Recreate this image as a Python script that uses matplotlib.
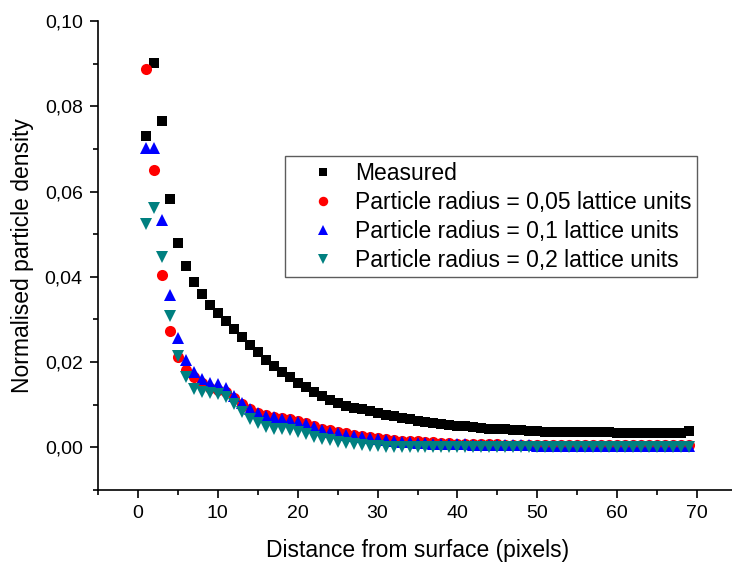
import numpy as np
import matplotlib
matplotlib.use("Agg")
import matplotlib.pyplot as plt
from matplotlib.ticker import MultipleLocator, FuncFormatter

plt.rcParams['font.family'] = ['Liberation Sans', 'DejaVu Sans']

# distance from surface (pixels)
distance = list(range(1, 70))

measured = [0.0730, 0.0902, 0.0765, 0.0583, 0.0479, 0.0425, 0.0387, 0.0359, 0.0335, 0.0315,
            0.0296, 0.0277, 0.0258, 0.0240, 0.0223, 0.0206, 0.0190, 0.0177, 0.0164, 0.0152,
            0.0141, 0.0130, 0.0120, 0.0112, 0.0104, 0.0098, 0.0093, 0.0089, 0.0085, 0.0081,
            0.0077, 0.0073, 0.0069, 0.0066, 0.0063, 0.0060, 0.0057, 0.0055, 0.0053, 0.0051,
            0.0049, 0.0047, 0.0046, 0.0044, 0.0043, 0.0042, 0.0041, 0.0040, 0.0039, 0.0038,
            0.0037, 0.0037, 0.0036, 0.0036, 0.0035, 0.0035, 0.0035, 0.0035, 0.0035, 0.0034,
            0.0034, 0.0034, 0.0034, 0.0034, 0.0034, 0.0034, 0.0034, 0.0034, 0.0038]

radius_005 = [0.0887, 0.0651, 0.0405, 0.0273, 0.0211, 0.0182, 0.0165, 0.0150, 0.0140, 0.0135,
              0.0130, 0.0116, 0.0102, 0.0090, 0.0081, 0.0076, 0.0072, 0.0069, 0.0066, 0.0062,
              0.0056, 0.0050, 0.0044, 0.0040, 0.0036, 0.0033, 0.0030, 0.0027, 0.0024, 0.0022,
              0.0020, 0.0018, 0.0016, 0.0015, 0.0014, 0.0013, 0.0012, 0.0011, 0.0010, 0.0009,
              0.0009, 0.0008, 0.0008, 0.0007, 0.0007, 0.0006, 0.0006, 0.0006, 0.0006, 0.0005,
              0.0005, 0.0005, 0.0005, 0.0005, 0.0005, 0.0005, 0.0005, 0.0005, 0.0005, 0.0005,
              0.0005, 0.0005, 0.0005, 0.0005, 0.0005, 0.0005, 0.0005, 0.0005, 0.0005]

radius_01 = [0.0703, 0.0702, 0.0534, 0.0358, 0.0257, 0.0204, 0.0176, 0.0161, 0.0151, 0.0148,
             0.0140, 0.0121, 0.0104, 0.0090, 0.0080, 0.0074, 0.0071, 0.0067, 0.0065, 0.0060,
             0.0054, 0.0048, 0.0041, 0.0037, 0.0033, 0.0030, 0.0027, 0.0024, 0.0021, 0.0019,
             0.0017, 0.0015, 0.0013, 0.0012, 0.0011, 0.0010, 0.0009, 0.0008, 0.0008, 0.0007,
             0.0007, 0.0006, 0.0006, 0.0006, 0.0005, 0.0005, 0.0005, 0.0005, 0.0005, 0.0004,
             0.0004, 0.0004, 0.0004, 0.0004, 0.0004, 0.0004, 0.0004, 0.0004, 0.0004, 0.0004,
             0.0004, 0.0004, 0.0004, 0.0004, 0.0004, 0.0004, 0.0004, 0.0004, 0.0004]

radius_02 = [0.0525, 0.0561, 0.0447, 0.0308, 0.0215, 0.0165, 0.0137, 0.0130, 0.0127, 0.0126,
             0.0118, 0.0102, 0.0083, 0.0067, 0.0056, 0.0048, 0.0044, 0.0042, 0.0040, 0.0036,
             0.0031, 0.0024, 0.0020, 0.0017, 0.0013, 0.0010, 0.0008, 0.0006, 0.0004, 0.0003,
             0.0002, 0.0001, 0.0001, 0.0000, 0.0000, 0.0000, 0.0000, 0.0000, 0.0000, 0.0000,
             0.0000, 0.0000, 0.0000, 0.0000, 0.0000, 0.0000, 0.0000, 0.0000, 0.0000, 0.0000,
             0.0000, 0.0000, 0.0000, 0.0000, 0.0000, 0.0000, 0.0000, 0.0000, 0.0000, 0.0000,
             0.0000, 0.0000, 0.0000, 0.0000, 0.0000, 0.0000, 0.0000, 0.0000, 0.0000]

labels = ["Measured",
          "Particle radius = 0,05 lattice units",
          "Particle radius = 0,1 lattice units",
          "Particle radius = 0,2 lattice units"]

fig = plt.figure(figsize=(7.32, 5.67), dpi=100)
ax = fig.add_axes([98 / 732, 77 / 567, 639 / 732, 469 / 567])

ax.plot(distance, measured, 's', color='black', ms=7.5, mew=0, label=labels[0])
ax.plot(distance, radius_005, 'o', color='#ff0000', ms=8, mew=0, label=labels[1])
ax.plot(distance, radius_01, '^', color='#0000ff', ms=8.5, mew=0, label=labels[2])
ax.plot(distance, radius_02, 'v', color='#008080', ms=8.5, mew=0, label=labels[3])

ax.set_xlim(-5, 75)
ax.set_ylim(-0.01, 0.10)

ax.spines['top'].set_visible(False)
ax.spines['right'].set_visible(False)
for s in ['left', 'bottom']:
    ax.spines[s].set_linewidth(1.2)

ax.xaxis.set_major_locator(MultipleLocator(10))
ax.xaxis.set_minor_locator(MultipleLocator(5))
ax.yaxis.set_major_locator(MultipleLocator(0.02))
ax.yaxis.set_minor_locator(MultipleLocator(0.01))
ax.yaxis.set_major_formatter(FuncFormatter(lambda v, p: ("%.2f" % v).replace(".", ",")))

ax.tick_params(which='major', direction='out', length=6, width=1.2, labelsize=14, pad=5)
ax.tick_params(which='minor', direction='out', length=3.5, width=1.2)

ax.set_xlabel("Distance from surface (pixels)", fontsize=16.5, labelpad=12)
ax.set_ylabel("Normalised particle density", fontsize=16.5, labelpad=8)

leg = ax.legend(loc='upper left', bbox_to_anchor=(0.2926, 0.712), borderaxespad=0,
                fontsize=16.5, fancybox=False, frameon=True, handlelength=2.8,
                handletextpad=0.0, labelspacing=0.26, borderpad=0.25, markerscale=0.85)
leg.get_frame().set_edgecolor('#333333')
leg.get_frame().set_linewidth(1.0)

fig.savefig("out.png", dpi=100)
